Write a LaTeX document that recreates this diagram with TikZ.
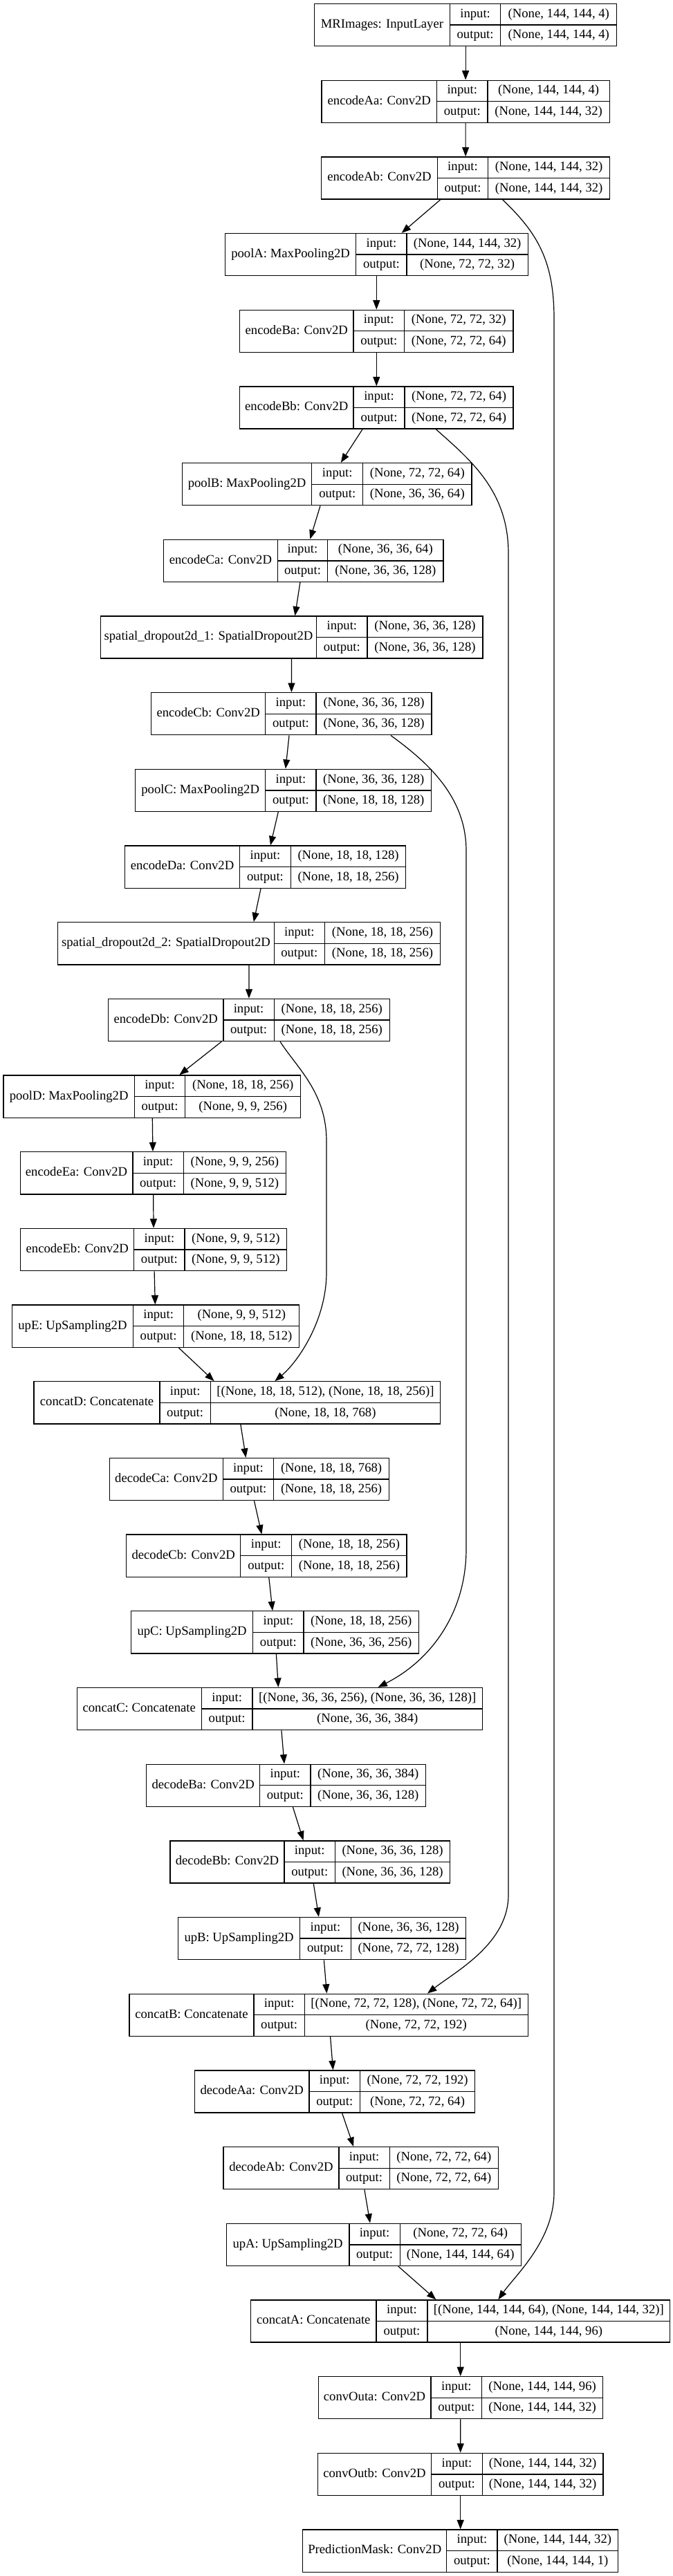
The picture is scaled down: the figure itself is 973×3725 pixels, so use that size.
\documentclass[tikz,border=0pt]{standalone}
\usepackage{fontspec}
\setmainfont{Liberation Serif}
\usetikzlibrary{arrows.meta}
\tikzset{
  layerbox/.style={draw=black, line width=1pt, inner sep=0pt, fill=none},
  cellline/.style={draw=black, line width=1pt},
  celltext/.style={font=\fontsize{14}{16}\selectfont, inner sep=0pt, text height=9.8pt, text depth=3.2pt, anchor=center},
  arr/.style={draw=black, line width=0.9pt, -{Triangle[length=10pt,width=7.5pt]}}
}
% #1 name, #2 rank index, #3 left, #4 divider1, #5 divider2, #6 right, #7 label, #8 input, #9 output
\newcommand\kerlayer[9]{%
  \pgfmathsetmacro\ltop{5.5+110.68*#2}%
  \pgfmathsetmacro\lbot{\ltop+61.2}%
  \pgfmathsetmacro\lmid{\ltop+30.6}%
  \pgfmathsetmacro\lrowa{\ltop+15.3}%
  \pgfmathsetmacro\lrowb{\ltop+45.9}%
  \pgfmathsetmacro\lw{(#6-#3)*0.75}%
  \pgfmathsetmacro\lh{61.2*0.75}%
  \node[layerbox, minimum width=\lw pt, minimum height=\lh pt] (#1) at ({(#3+#6)/2},\lmid) {};
  \draw[cellline] (#4,\ltop) -- (#4,\lbot);
  \draw[cellline] (#5,\ltop) -- (#5,\lbot);
  \draw[cellline] (#4,\lmid) -- (#6,\lmid);
  \node[celltext] (#1-l) at ({(#3+#4)/2},\lmid) {#7};
  \node[celltext] (#1-i) at ({(#4+#5)/2},\lrowa) {input:};
  \node[celltext] (#1-o) at ({(#4+#5)/2},\lrowb) {output:};
  \node[celltext] (#1-vi) at ({(#5+#6)/2},\lrowa) {#8};
  \node[celltext] (#1-vo) at ({(#5+#6)/2},\lrowb) {#9};
}
\begin{document}
\begin{tikzpicture}[x=0.75pt, y=-0.75pt]
\fill[white] (0,0) rectangle (973,3725);
\useasboundingbox (0,0) rectangle (973,3725);

\kerlayer{MRImages}{0}{454.4}{650.4}{723.8}{891.8}{MRImages: InputLayer}{(None, 144, 144, 4)}{(None, 144, 144, 4)}
\kerlayer{encodeAa}{1}{465}{631.6}{705}{881.2}{encodeAa: Conv2D}{(None, 144, 144, 4)}{(None, 144, 144, 32)}
\kerlayer{encodeAb}{2}{464.7}{632.3}{705.7}{881.6}{encodeAb: Conv2D}{(None, 144, 144, 32)}{(None, 144, 144, 32)}
\kerlayer{poolA}{3}{325.4}{514.8}{588.1}{763.2}{poolA: MaxPooling2D}{(None, 144, 144, 32)}{(None, 72, 72, 32)}
\kerlayer{encodeBa}{4}{346.5}{511.1}{584.4}{742.1}{encodeBa: Conv2D}{(None, 72, 72, 32)}{(None, 72, 72, 64)}
\kerlayer{encodeBb}{5}{346.5}{511.1}{585}{742.1}{encodeBb: Conv2D}{(None, 72, 72, 64)}{(None, 72, 72, 64)}
\kerlayer{poolB}{6}{263.3}{450.8}{524.7}{681.9}{poolB: MaxPooling2D}{(None, 72, 72, 64)}{(None, 36, 36, 64)}
\kerlayer{encodeCa}{7}{236.6}{401.2}{473.8}{640.9}{encodeCa: Conv2D}{(None, 36, 36, 64)}{(None, 36, 36, 128)}
\kerlayer{sdA}{8}{145.3}{457.7}{531}{698}{spatial\_dropout2d\_1: SpatialDropout2D}{(None, 36, 36, 128)}{(None, 36, 36, 128)}
\kerlayer{encodeCb}{9}{218.6}{383.8}{457.1}{624.1}{encodeCb: Conv2D}{(None, 36, 36, 128)}{(None, 36, 36, 128)}
\kerlayer{poolC}{10}{195.6}{383.8}{457.1}{623.5}{poolC: MaxPooling2D}{(None, 36, 36, 128)}{(None, 18, 18, 128)}
\kerlayer{encodeDa}{11}{180.7}{346.5}{420.4}{586.8}{encodeDa: Conv2D}{(None, 18, 18, 128)}{(None, 18, 18, 256)}
\kerlayer{sdB}{12}{83.8}{396.2}{469.5}{636.5}{spatial\_dropout2d\_2: SpatialDropout2D}{(None, 18, 18, 256)}{(None, 18, 18, 256)}
\kerlayer{encodeDb}{13}{156.5}{322.9}{396.2}{563.2}{encodeDb: Conv2D}{(None, 18, 18, 256)}{(None, 18, 18, 256)}
\kerlayer{poolD}{14}{5}{194.4}{267.7}{434.7}{poolD: MaxPooling2D}{(None, 18, 18, 256)}{(None, 9, 9, 256)}
\kerlayer{encodeEa}{15}{29.2}{191.9}{265.2}{413.6}{encodeEa: Conv2D}{(None, 9, 9, 256)}{(None, 9, 9, 512)}
\kerlayer{encodeEb}{16}{29.8}{193.8}{267}{414.8}{encodeEb: Conv2D}{(None, 9, 9, 512)}{(None, 9, 9, 512)}
\kerlayer{upE}{17}{17.4}{192.5}{265.8}{432.8}{upE: UpSampling2D}{(None, 9, 9, 512)}{(None, 18, 18, 512)}
\kerlayer{concatD}{18}{49.1}{231}{304.3}{636.5}{concatD: Concatenate}{[(None, 18, 18, 512), (None, 18, 18, 256)]}{(None, 18, 18, 768)}
\kerlayer{decodeCa}{19}{158.4}{322.3}{395.6}{562.6}{decodeCa: Conv2D}{(None, 18, 18, 768)}{(None, 18, 18, 256)}
\kerlayer{decodeCb}{20}{182.6}{347.8}{421.7}{588.1}{decodeCb: Conv2D}{(None, 18, 18, 256)}{(None, 18, 18, 256)}
\kerlayer{upC}{21}{189.4}{365.8}{439}{605.5}{upC: UpSampling2D}{(None, 18, 18, 256)}{(None, 36, 36, 256)}
\kerlayer{concatC}{22}{111.2}{291.2}{365.1}{697.4}{concatC: Concatenate}{[(None, 36, 36, 256), (None, 36, 36, 128)]}{(None, 36, 36, 384)}
\kerlayer{decodeBa}{23}{211.8}{375.7}{449}{615.4}{decodeBa: Conv2D}{(None, 36, 36, 384)}{(None, 36, 36, 128)}
\kerlayer{decodeBb}{24}{245.9}{411.1}{484.4}{650.8}{decodeBb: Conv2D}{(None, 36, 36, 128)}{(None, 36, 36, 128)}
\kerlayer{upB}{25}{257.7}{433.5}{507.4}{673.8}{upB: UpSampling2D}{(None, 36, 36, 128)}{(None, 72, 72, 128)}
\kerlayer{concatB}{26}{186.9}{367}{440.3}{763.2}{concatB: Concatenate}{[(None, 72, 72, 128), (None, 72, 72, 64)]}{(None, 72, 72, 192)}
\kerlayer{decodeAa}{27}{281.3}{447.1}{520.4}{686.8}{decodeAa: Conv2D}{(None, 72, 72, 192)}{(None, 72, 72, 64)}
\kerlayer{decodeAb}{28}{322.9}{490}{563.2}{720.4}{decodeAb: Conv2D}{(None, 72, 72, 64)}{(None, 72, 72, 64)}
\kerlayer{upA}{29}{327.3}{504.9}{578.2}{753.3}{upA: UpSampling2D}{(None, 72, 72, 64)}{(None, 144, 144, 64)}
\kerlayer{concatA}{30}{362.7}{544}{617.9}{968.8}{concatA: Concatenate}{[(None, 144, 144, 64), (None, 144, 144, 32)]}{(None, 144, 144, 96)}
\kerlayer{convOuta}{31}{460.2}{622.9}{696.8}{871.3}{convOuta: Conv2D}{(None, 144, 144, 96)}{(None, 144, 144, 32)}
\kerlayer{convOutb}{32}{459.5}{623.5}{697.4}{871.9}{convOutb: Conv2D}{(None, 144, 144, 32)}{(None, 144, 144, 32)}
\kerlayer{PredictionMask}{33}{437.8}{645.8}{719.1}{893.6}{PredictionMask: Conv2D}{(None, 144, 144, 32)}{(None, 144, 144, 1)}

% main chain
\draw[arr] (MRImages) -- (encodeAa);
\draw[arr] (encodeAa) -- (encodeAb);
\draw[arr] (encodeAb) -- (poolA);
\draw[arr] (poolA) -- (encodeBa);
\draw[arr] (encodeBa) -- (encodeBb);
\draw[arr] (encodeBb) -- (poolB);
\draw[arr] (poolB) -- (encodeCa);
\draw[arr] (encodeCa) -- (sdA);
\draw[arr] (sdA) -- (encodeCb);
\draw[arr] (encodeCb) -- (poolC);
\draw[arr] (poolC) -- (encodeDa);
\draw[arr] (encodeDa) -- (sdB);
\draw[arr] (sdB) -- (encodeDb);
\draw[arr] (encodeDb) -- (poolD);
\draw[arr] (poolD) -- (encodeEa);
\draw[arr] (encodeEa) -- (encodeEb);
\draw[arr] (encodeEb) -- (upE);
\draw[arr] (upE) -- (concatD);
\draw[arr] (concatD) -- (decodeCa);
\draw[arr] (decodeCa) -- (decodeCb);
\draw[arr] (decodeCb) -- (upC);
\draw[arr] (upC) -- (concatC);
\draw[arr] (concatC) -- (decodeBa);
\draw[arr] (decodeBa) -- (decodeBb);
\draw[arr] (decodeBb) -- (upB);
\draw[arr] (upB) -- (concatB);
\draw[arr] (concatB) -- (decodeAa);
\draw[arr] (decodeAa) -- (decodeAb);
\draw[arr] (decodeAb) -- (upA);
\draw[arr] (upA) -- (concatA);
\draw[arr] (concatA) -- (convOuta);
\draw[arr] (convOuta) -- (convOutb);
\draw[arr] (convOutb) -- (PredictionMask);

% skip connections
\draw[arr] (encodeAb.south -| 726.6,0) .. controls (775,335) and (801,375) .. (801,460)
  -- (801,3170) .. controls (801,3240) and (745,3290) .. (concatA.north -| 720.4,0);
\draw[arr] (encodeBb.south -| 630.3,0) .. controls (680,665) and (735,710) .. (735,800)
  -- (735,2740) .. controls (735,2810) and (660,2850) .. (concatB.north -| 618,0);
\draw[arr] (encodeCb.south -| 565,0) .. controls (615,1100) and (674,1150) .. (674,1230)
  -- (674,2240) .. controls (674,2330) and (625,2400) .. (concatC.north -| 546.5,0);
\draw[arr] (encodeDb.south -| 405,0) .. controls (430,1545) and (472,1580) .. (472,1650)
  -- (472,1840) .. controls (472,1910) and (430,1970) .. (concatD.north -| 397.4,0);
\end{tikzpicture}
\end{document}
